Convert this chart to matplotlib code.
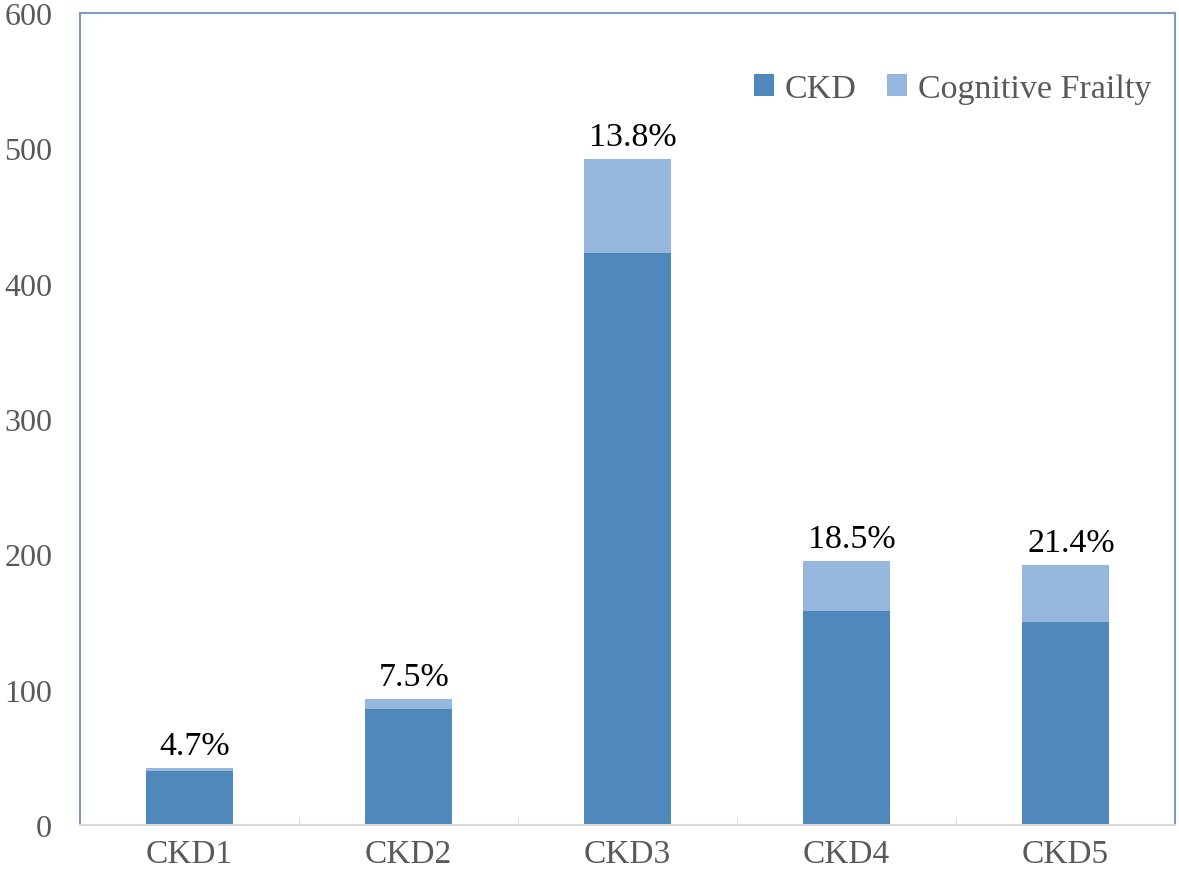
import matplotlib.pyplot as plt
import numpy as np

# data
stages = ['CKD1', 'CKD2', 'CKD3', 'CKD4', 'CKD5']
ckd = [40, 86, 423, 158, 150]
frailty = [2, 7, 69, 37, 42]
pct_labels = ['4.7%', '7.5%', '13.8%', '18.5%', '21.4%']

plt.rcParams['font.family'] = ['Liberation Serif', 'DejaVu Serif']

fig = plt.figure(figsize=(11.79, 8.7), dpi=100)
ax = fig.add_axes([80/1179, 44/870, 1095/1179, 812/870])

x = np.arange(len(stages))
w = 0.4
ax.bar(x, ckd, w, color='#4f88bb', label='CKD')
ax.bar(x, frailty, w, bottom=ckd, color='#95b7de', label='Cognitive Frailty')

tot = np.array(ckd) + np.array(frailty)
for xi, t, lab in zip(x, tot, pct_labels):
    ax.annotate(lab, (xi, t), xytext=(4, 5), textcoords='offset points',
                ha='center', va='bottom', fontsize=24.5, color='black')

ax.set_xlim(-0.5, len(stages) - 0.5)
ax.set_ylim(0, 600)
ax.set_yticks(range(0, 601, 100))
ax.set_xticks(x)
ax.set_xticklabels(stages)
ax.set_xticks(np.arange(0.5, len(stages) - 0.5, 1), minor=True)

ax.tick_params(axis='y', length=0, pad=20, labelsize=23, labelcolor='#595959')
ax.tick_params(axis='x', which='major', length=0, pad=10, labelsize=24, labelcolor='#595959')
ax.tick_params(axis='x', which='minor', direction='in', length=6, color='#d9d9d9')

for s in ['left', 'top', 'right']:
    ax.spines[s].set_color('#7f98c0')
    ax.spines[s].set_linewidth(1.5)
ax.spines['bottom'].set_color('#d9d9d9')
ax.spines['bottom'].set_linewidth(1.5)

ax.legend(loc='upper right', bbox_to_anchor=(1.006, 0.963), ncol=2, frameon=False,
          fontsize=24.5, handlelength=0.6, handleheight=0.6, handletextpad=0.3,
          columnspacing=0.9, labelcolor='#595959')

fig.savefig('out.png', dpi=100)
